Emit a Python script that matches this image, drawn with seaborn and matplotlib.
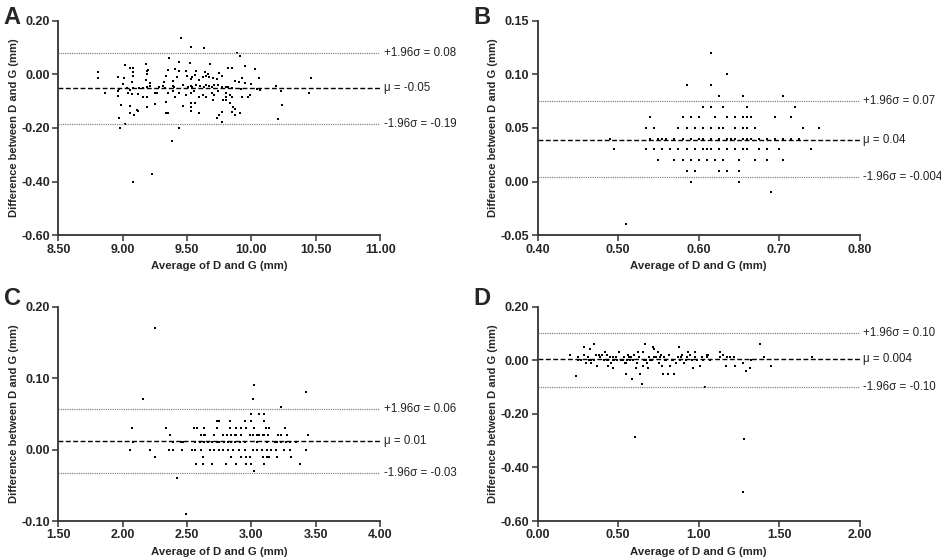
import numpy as np
import pandas as pd
import matplotlib
matplotlib.use("Agg")
import matplotlib.pyplot as plt
import matplotlib.transforms as mtransforms
import seaborn as sns

sns.set_style("ticks")
plt.rcParams['font.family'] = ['Liberation Sans', 'DejaVu Sans']

# --- Panel A: Bland-Altman ---
a_avg = [9.45, 9.53, 9.63, 9.89, 9.91, 9.36, 9.44, 9.52, 9.68, 9.02, 9.18, 9.95,
         9.08, 9.06, 9.41, 9.35, 9.20, 9.82, 9.85, 10.03, 9.49, 9.44, 9.57, 9.64,
         8.81, 9.08, 9.19, 9.75, 8.81, 8.96, 9.08, 9.01, 9.18, 9.34, 9.42, 9.50,
         9.54, 9.62, 9.65, 9.67, 9.70, 9.73, 9.77, 9.93, 10.06, 10.46, 9.19, 9.66,
         9.56, 9.53, 9.59, 9.39, 9.32, 9.87, 9.90, 9.95, 10.00, 9.07, 9.00, 9.21,
         8.97, 9.03, 9.06, 9.08, 9.13, 9.16, 9.19, 9.21, 9.28, 9.31, 9.33, 9.39,
         9.40, 9.47, 9.51, 9.53, 9.54, 9.57, 9.60, 9.63, 9.65, 9.67, 9.69, 9.71,
         9.74, 9.77, 9.80, 9.82, 9.85, 9.92, 10.04, 10.07, 10.19, 10.23, 10.45, 8.86,
         8.96, 8.96, 9.04, 9.07, 9.12, 9.16, 9.19, 9.25, 9.27, 9.35, 9.39, 9.41,
         9.44, 9.49, 9.53, 9.55, 9.59, 9.62, 9.65, 9.69, 9.71, 9.74, 9.80, 9.80,
         9.83, 9.85, 9.93, 9.97, 9.99, 8.99, 9.06, 9.11, 9.19, 9.25, 9.34, 9.53,
         9.53, 9.47, 9.56, 9.70, 9.78, 9.80, 9.83, 9.86, 9.87, 9.85, 9.91, 10.24,
         9.06, 9.09, 9.12, 9.34, 9.35, 9.53, 9.59, 9.77, 9.75, 9.87, 8.97, 9.73,
         9.77, 10.21, 8.98, 9.02, 9.44, 9.38, 9.23, 9.08]
a_diff = [0.134, 0.103, 0.097, 0.078, 0.070, 0.060, 0.045, 0.041, 0.037, 0.035, 0.037, 0.031,
          0.025, 0.022, 0.020, 0.016, 0.016, 0.022, 0.022, 0.020, 0.014, 0.013, 0.013, 0.010,
          0.008, 0.008, 0.014, 0.006, -0.015, -0.009, -0.006, -0.015, -0.021, -0.006, -0.009, -0.006,
          -0.009, -0.011, -0.006, -0.011, -0.015, -0.019, -0.006, -0.015, -0.015, -0.015, 0.001, 0.001,
          -0.002, -0.017, -0.021, -0.024, -0.027, -0.025, -0.027, -0.031, -0.036, -0.030, -0.037, -0.033,
          -0.056, -0.052, -0.058, -0.052, -0.052, -0.052, -0.048, -0.043, -0.048, -0.043, -0.052, -0.043,
          -0.048, -0.040, -0.048, -0.043, -0.048, -0.040, -0.043, -0.048, -0.040, -0.043, -0.046, -0.040,
          -0.040, -0.048, -0.046, -0.048, -0.052, -0.056, -0.056, -0.058, -0.043, -0.061, -0.068, -0.068,
          -0.061, -0.081, -0.068, -0.074, -0.074, -0.083, -0.083, -0.071, -0.071, -0.068, -0.064, -0.083,
          -0.068, -0.077, -0.071, -0.064, -0.083, -0.077, -0.086, -0.071, -0.077, -0.064, -0.068, -0.083,
          -0.077, -0.086, -0.083, -0.083, -0.077, -0.114, -0.118, -0.133, -0.123, -0.110, -0.102, -0.108,
          -0.120, -0.118, -0.108, -0.095, -0.095, -0.095, -0.108, -0.123, -0.130, -0.139, -0.143, -0.114,
          -0.145, -0.151, -0.136, -0.143, -0.146, -0.135, -0.145, -0.139, -0.151, -0.151, -0.161, -0.164,
          -0.176, -0.165, -0.199, -0.186, -0.201, -0.247, -0.371, -0.402]

# --- Panel B ---
b_avg = [0.615, 0.635, 0.585, 0.615, 0.625, 0.655, 0.705,
         0.605, 0.615, 0.63, 0.66, 0.72,
         0.54, 0.58, 0.59, 0.60, 0.62, 0.635, 0.645, 0.655, 0.66, 0.665, 0.695, 0.715,
         0.535, 0.545, 0.575, 0.585, 0.585, 0.595, 0.605, 0.615, 0.625, 0.63, 0.645, 0.655,
         0.66, 0.67, 0.73, 0.75,
         0.49, 0.54, 0.55, 0.555, 0.56, 0.57, 0.58, 0.59, 0.60, 0.605, 0.615, 0.625,
         0.635, 0.64, 0.645, 0.655, 0.66, 0.665, 0.675, 0.685, 0.695, 0.705, 0.715, 0.725,
         0.495, 0.535, 0.545, 0.555, 0.565, 0.575, 0.585, 0.595, 0.605, 0.615, 0.625, 0.635,
         0.645, 0.655, 0.66, 0.675, 0.685, 0.70, 0.74, 0.61,
         0.55, 0.57, 0.58, 0.59, 0.60, 0.61, 0.62, 0.63, 0.65, 0.67, 0.685, 0.705, 0.62,
         0.585, 0.595, 0.625, 0.635, 0.65,
         0.59, 0.65, 0.69, 0.51]
b_diff = [0.12, 0.10, 0.09, 0.09, 0.08, 0.08, 0.08,
          0.07, 0.07, 0.07, 0.07, 0.07,
          0.06, 0.06, 0.06, 0.06, 0.06, 0.06, 0.06, 0.06, 0.06, 0.06, 0.06, 0.06,
          0.05, 0.05, 0.05, 0.05, 0.05, 0.05, 0.05, 0.05, 0.05, 0.05, 0.05, 0.05,
          0.05, 0.05, 0.05, 0.05,
          0.04, 0.04, 0.04, 0.04, 0.04, 0.04, 0.04, 0.04, 0.04, 0.04, 0.04, 0.04,
          0.04, 0.04, 0.04, 0.04, 0.04, 0.04, 0.04, 0.04, 0.04, 0.04, 0.04, 0.04,
          0.03, 0.03, 0.03, 0.03, 0.03, 0.03, 0.03, 0.03, 0.03, 0.03, 0.03, 0.03,
          0.03, 0.03, 0.03, 0.03, 0.03, 0.03, 0.03, 0.03,
          0.02, 0.02, 0.02, 0.02, 0.02, 0.02, 0.02, 0.02, 0.02, 0.02, 0.02, 0.02, 0.02,
          0.01, 0.01, 0.01, 0.01, 0.01,
          0.00, 0.00, -0.01, -0.04]

# --- Panel C ---
c_avg = [2.25, 3.02, 3.42, 2.16, 3.01, 3.23, 3.00, 3.06, 3.10,
         2.73, 2.75, 2.83, 2.95, 3.00, 3.10,
         2.07, 2.34, 2.55, 2.58, 2.63, 2.73, 2.83, 2.88, 2.92, 2.96, 3.02, 3.11, 3.14, 3.26,
         2.37, 2.61, 2.63, 2.64, 2.71, 2.78, 2.81, 2.84, 2.87, 2.88, 2.92, 2.99, 3.01, 3.04,
         3.06, 3.09, 3.10, 3.13, 3.21, 3.23, 3.28, 3.44,
         2.08, 2.39, 2.45, 2.47, 2.56, 2.60, 2.63, 2.66, 2.69, 2.73, 2.75, 2.79, 2.82, 2.84,
         2.87, 2.91, 2.95, 3.04, 3.12, 3.18, 3.20, 3.23, 3.27, 3.30, 3.35,
         2.06, 2.21, 2.36, 2.39, 2.46, 2.54, 2.56, 2.61, 2.68, 2.71, 2.75, 2.78, 2.82, 2.86,
         2.90, 2.95, 3.01, 3.04, 3.08, 3.12, 3.15, 3.19, 3.25, 3.30, 3.42,
         2.25, 2.62, 2.84, 2.92, 2.96, 2.99, 3.09, 3.12, 3.14, 3.20, 3.31,
         2.57, 2.62, 2.69, 2.80, 2.88, 2.96, 3.00, 3.10, 3.38,
         3.02, 2.42, 2.49]
c_diff = [0.17, 0.09, 0.08, 0.07, 0.07, 0.06, 0.05, 0.05, 0.05,
          0.04, 0.04, 0.04, 0.04, 0.04, 0.04,
          0.03, 0.03, 0.03, 0.03, 0.03, 0.03, 0.03, 0.03, 0.03, 0.03, 0.03, 0.03, 0.03, 0.03,
          0.02, 0.02, 0.02, 0.02, 0.02, 0.02, 0.02, 0.02, 0.02, 0.02, 0.02, 0.02, 0.02, 0.02,
          0.02, 0.02, 0.02, 0.02, 0.02, 0.02, 0.02, 0.02,
          0.01, 0.01, 0.01, 0.01, 0.01, 0.01, 0.01, 0.01, 0.01, 0.01, 0.01, 0.01, 0.01, 0.01,
          0.01, 0.01, 0.01, 0.01, 0.01, 0.01, 0.01, 0.01, 0.01, 0.01, 0.01,
          0.00, 0.00, 0.00, 0.00, 0.00, 0.00, 0.00, 0.00, 0.00, 0.00, 0.00, 0.00, 0.00, 0.00,
          0.00, 0.00, 0.00, 0.00, 0.00, 0.00, 0.00, 0.00, 0.00, 0.00, 0.00,
          -0.01, -0.01, -0.01, -0.01, -0.01, -0.01, -0.01, -0.01, -0.01, -0.01, -0.01,
          -0.02, -0.02, -0.02, -0.02, -0.02, -0.02, -0.02, -0.02, -0.02,
          -0.03, -0.04, -0.09]

# --- Panel D ---
d_avg = [0.20, 0.24, 0.25, 0.25, 0.27, 0.29, 0.29, 0.30, 0.31, 0.325,
         0.32, 0.33, 0.35, 0.35, 0.36, 0.37, 0.38, 0.39, 0.40, 0.41,
         0.42, 0.43, 0.435, 0.44, 0.45, 0.456, 0.466, 0.47, 0.477, 0.487,
         0.495, 0.508, 0.522, 0.533, 0.539, 0.543, 0.549, 0.553, 0.56, 0.568,
         0.574, 0.584, 0.595, 0.60, 0.605, 0.611, 0.62, 0.626, 0.632, 0.636,
         0.647, 0.653, 0.657, 0.667, 0.674, 0.682, 0.688, 0.694, 0.709, 0.719,
         0.725, 0.736, 0.746, 0.756, 0.765, 0.771, 0.781, 0.788, 0.798, 0.808,
         0.819, 0.823, 0.833, 0.85, 0.858, 0.87, 0.881, 0.885, 0.895, 0.91,
         0.926, 0.937, 0.947, 0.962, 0.968, 0.978, 0.989, 1.009, 1.02, 1.03,
         1.04, 1.051, 1.061, 1.072, 1.13, 1.134, 1.15, 1.171, 1.179, 1.196,
         1.221, 1.227, 1.279, 1.275, 1.285, 1.295, 1.32, 1.326, 1.382, 1.409,
         1.449, 1.704,
         0.33, 0.43, 0.47, 0.52, 0.55, 0.58, 0.66, 0.70, 0.72, 0.76,
         0.79, 0.84, 0.89, 0.92, 0.98, 1.05]
d_diff = [0.02, -0.06, 0.01, 0.00, 0.00, 0.05, 0.02, -0.01, 0.01, 0.04,
          0.00, -0.01, 0.06, 0.00, 0.02, -0.02, 0.02, 0.01, 0.02, 0.00,
          0.03, 0.02, -0.02, 0.00, 0.01, -0.01, 0.01, -0.03, 0.00, 0.01,
          0.00, 0.03, 0.00, 0.00, 0.01, -0.01, -0.05, 0.00, 0.02, 0.01,
          0.00, -0.07, 0.00, 0.02, -0.285, -0.03, -0.01, 0.03, 0.01, -0.05,
          -0.09, 0.03, -0.02, 0.06, 0.00, -0.01, -0.03, 0.01, 0.00, 0.05,
          0.04, 0.01, 0.03, -0.01, 0.02, -0.02, -0.05, 0.01, 0.00, -0.05,
          0.02, -0.02, 0.00, -0.05, -0.01, 0.01, 0.05, 0.00, 0.02, -0.01,
          0.01, 0.03, 0.02, 0.00, -0.03, 0.03, 0.00, -0.02, 0.01, 0.00,
          -0.10, 0.02, 0.02, 0.00, 0.01, 0.03, 0.02, -0.02, 0.01, 0.01,
          0.01, -0.02, -0.01, -0.49, -0.295, -0.04, -0.03, 0.00, 0.06, 0.01,
          -0.02, 0.01,
          0.00, 0.00, 0.00, 0.00, -0.01, 0.01, 0.00, 0.00, 0.01, 0.01,
          0.00, 0.00, 0.01, 0.00, 0.01, 0.01]

# mean and limits of agreement (line positions) and their labels
a_stats = [-0.052, 0.081, -0.185]
b_stats = [0.039, 0.075, 0.004]
c_stats = [0.0115, 0.057, -0.033]
d_stats = [0.004, 0.100, -0.100]
a_labels = ["μ = -0.05", "+1.96σ = 0.08", "-1.96σ = -0.19"]
b_labels = ["μ = 0.04", "+1.96σ = 0.07", "-1.96σ = -0.004"]
c_labels = ["μ = 0.01", "+1.96σ = 0.06", "-1.96σ = -0.03"]
d_labels = ["μ = 0.004", "+1.96σ = 0.10", "-1.96σ = -0.10"]

panels = [
    ("A", a_avg, a_diff, a_stats, a_labels, np.arange(8.5, 11.01, 0.5), np.arange(-0.6, 0.21, 0.2)),
    ("B", b_avg, b_diff, b_stats, b_labels, np.arange(0.4, 0.81, 0.1), np.arange(-0.05, 0.151, 0.05)),
    ("C", c_avg, c_diff, c_stats, c_labels, np.arange(1.5, 4.01, 0.5), np.arange(-0.1, 0.21, 0.1)),
    ("D", d_avg, d_diff, d_stats, d_labels, np.arange(0.0, 2.01, 0.5), np.arange(-0.6, 0.21, 0.2)),
]

fig = plt.figure(figsize=(9.41, 5.60), dpi=100)
rects = [[0.062, 0.580, 0.342, 0.383],
         [0.5714, 0.580, 0.342, 0.383],
         [0.062, 0.0696, 0.342, 0.383],
         [0.5714, 0.0696, 0.342, 0.383]]
letter_pos = [(0.004, 0.99), (0.503, 0.99), (0.004, 0.487), (0.503, 0.487)]

for (letter, xs, ys, stats, labels, xt, yt), rect, lp in zip(panels, rects, letter_pos):
    ax = fig.add_axes(rect)
    df = pd.DataFrame({"avg": xs, "diff": ys})
    sns.scatterplot(data=df, x="avg", y="diff", ax=ax, s=3, color="black",
                    marker="s", linewidth=0)
    ax.set_xlim(xt[0], xt[-1])
    ax.set_ylim(yt[0], yt[-1])
    ax.set_xticks(xt)
    ax.set_yticks(yt)
    ax.set_xticklabels([f"{v:.2f}" for v in xt], fontweight="bold", fontsize=9)
    ax.set_yticklabels([f"{v:.2f}" for v in yt], fontweight="bold", fontsize=9)
    ax.tick_params(direction="out", length=4, width=1.1, color="#333333", pad=2)

    mean, upper, lower = stats
    ax.axhline(mean, color="black", linestyle=(0, (3.5, 1.8)), linewidth=1.0)
    ax.axhline(upper, color="#888888", linestyle=(0, (1, 0.8)), linewidth=0.9)
    ax.axhline(lower, color="#888888", linestyle=(0, (1, 0.8)), linewidth=0.9)
    trans = mtransforms.blended_transform_factory(ax.transAxes, ax.transData)
    for val, lab in zip(stats, labels):
        ax.text(1.012, val, lab, transform=trans, ha="left", va="center",
                fontsize=8.3, color="#222222")

    ax.set_xlabel("Average of D and G (mm)", fontweight="bold", fontsize=8.2, labelpad=4)
    ax.set_ylabel("Difference between D and G (mm)", fontweight="bold", fontsize=8.0)
    ax.yaxis.set_label_coords(-0.123, 0.5)
    sns.despine(ax=ax)
    for sp in ["left", "bottom"]:
        ax.spines[sp].set_linewidth(1.3)
        ax.spines[sp].set_color("#333333")

    fig.text(lp[0], lp[1], letter, fontsize=17, fontweight="bold", ha="left", va="top")

fig.savefig("out.png", dpi=100)
